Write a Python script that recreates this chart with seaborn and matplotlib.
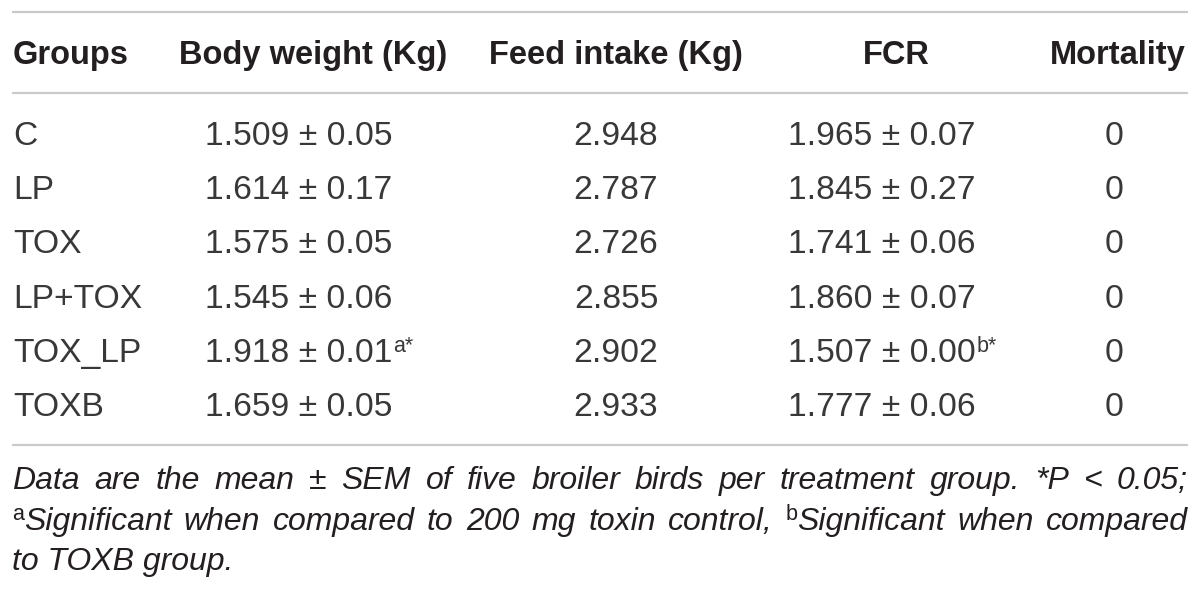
import matplotlib
matplotlib.use("Agg")
import matplotlib.pyplot as plt
import seaborn as sns

# ---------------- data ----------------
headers = ["Groups", "Body weight (Kg)", "Feed intake (Kg)", "FCR", "Mortality"]
groups = ["C", "LP", "TOX", "LP+TOX", "TOX_LP", "TOXB"]
bw_mean = [1.509, 1.614, 1.575, 1.545, 1.918, 1.659]
bw_sem = [0.05, 0.17, 0.05, 0.06, 0.01, 0.05]
bw_sup = ["", "", "", "", "a*", ""]
feed_intake = [2.948, 2.787, 2.726, 2.855, 2.902, 2.933]
fcr_mean = [1.965, 1.845, 1.741, 1.860, 1.507, 1.777]
fcr_sem = [0.07, 0.27, 0.06, 0.07, 0.00, 0.06]
fcr_sup = ["", "", "", "", "b*", ""]
mortality = [0, 0, 0, 0, 0, 0]

foot_line1 = "Data are the mean ± SEM of five broiler birds per treatment group. *P < 0.05;"
foot_line2 = [("a", "Significant"), ("", "when"), ("", "compared"), ("", "to"), ("", "200"),
              ("", "mg"), ("", "toxin"), ("", "control,"), ("b", "Significant"), ("", "when"),
              ("", "compared")]
foot_line3 = "to TOXB group."

# ---------------- style ----------------
sns.set_theme(style="white")
plt.rcParams["font.family"] = ["Liberation Sans", "DejaVu Sans"]

TXT = "#231f20"
BODY = "#383838"
RULE = "#c9c9c9"

fig = plt.figure(figsize=(12, 5.93), dpi=100)
ax = fig.add_axes([0, 0, 1, 1])
ax.set_xlim(0, 1200)
ax.set_ylim(593, 0)
ax.set_axis_off()
renderer = fig.canvas.get_renderer()

X0, X1 = 12, 1188
for yy in (12, 93, 445):
    ax.hlines(yy, X0, X1, color=RULE, lw=1.6)

HS = 23.5
BS = 24.2
SS = 15.5

# header
hdr_x = [13, 313, 616, 896, 1186]
hdr_ha = ["left", "center", "center", "center", "right"]
for h, x, ha in zip(headers, hdr_x, hdr_ha):
    ax.text(x, 64, h, ha=ha, va="baseline", fontsize=HS, fontweight="bold", color=TXT)


def with_sup(x, y, main, sup, ha="left"):
    t = ax.text(x, y, main, ha=ha, va="baseline", fontsize=BS, color=BODY)
    if sup:
        bb = t.get_window_extent(renderer)
        ax.text(bb.x1 + 1, y - 10, sup, ha="left", va="baseline", fontsize=SS, color=BODY)


row0, dy = 145, 54.2
for i, g in enumerate(groups):
    y = row0 + i * dy
    ax.text(13, y, g, ha="left", va="baseline", fontsize=BS, color=BODY)
    with_sup(205, y, f"{bw_mean[i]:.3f} ± {bw_sem[i]:.2f}", bw_sup[i])
    ax.text(616, y, f"{feed_intake[i]:.3f}", ha="center", va="baseline", fontsize=BS, color=BODY)
    with_sup(788, y, f"{fcr_mean[i]:.3f} ± {fcr_sem[i]:.2f}", fcr_sup[i])
    ax.text(1114, y, f"{mortality[i]:d}", ha="center", va="baseline", fontsize=BS, color=BODY)

# footnote (justified)
FS = 23
FSUP = 15.5


def width_of(txt, **kw):
    t = ax.text(0, 300, txt, **kw)
    w = t.get_window_extent(renderer).width
    t.remove()
    return w


def justify(words, y, fs):
    # words: list of (sup, word)
    widths = []
    for sup, w in words:
        ws = width_of(sup, fontsize=FSUP) if sup else 0.0
        ww = width_of(w, fontsize=fs, style="italic")
        widths.append((ws, ww))
    total = sum(a + b for a, b in widths)
    gap = (X1 - X0 - total) / (len(words) - 1)
    x = X0
    for (sup, w), (ws, ww) in zip(words, widths):
        if sup:
            ax.text(x, y - 10, sup, fontsize=FSUP, ha="left", va="baseline", color=TXT)
        ax.text(x + ws, y, w, fontsize=fs, style="italic", ha="left", va="baseline", color=TXT)
        x += ws + ww + gap


# ensure line 1 fits
w1 = [("", w) for w in foot_line1.split(" ")]
fs = FS
space = width_of("a b", fontsize=fs, style="italic") - width_of("ab", fontsize=fs, style="italic")
nat = sum(width_of(w, fontsize=fs, style="italic") for _, w in w1) + space * (len(w1) - 1)
if nat > (X1 - X0):
    fs = fs * (X1 - X0) / nat * 0.99

justify(w1, 489, fs)
justify(foot_line2, 530, fs)
ax.text(X0, 570, foot_line3, fontsize=fs, style="italic", ha="left", va="baseline", color=TXT)

fig.savefig("out.png", dpi=100, facecolor="white")
